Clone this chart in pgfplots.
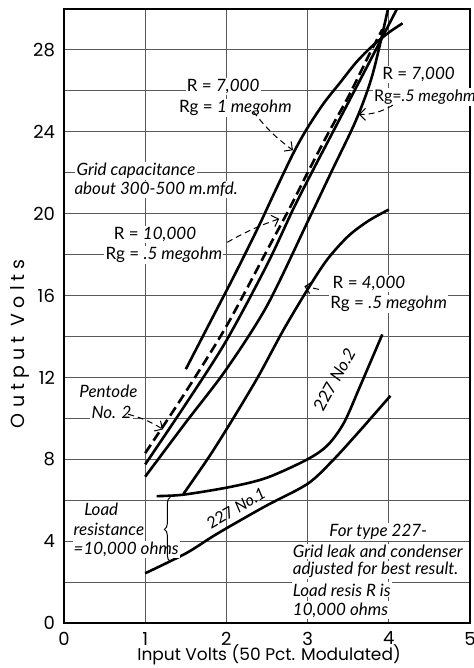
\documentclass[border=0pt]{standalone}
\usepackage{fontspec}
\setmainfont{Poppins}
\newfontfamily\ann{Lato}
\usepackage{pgfplots}
\pgfplotsset{compat=1.18}
\usetikzlibrary{decorations.pathreplacing,arrows.meta}

\pgfplotstableread{
x y
1.5 12.4
1.8 14.7
2.1 17.0
2.4 19.4
2.6 21.1
2.83 23.0
3.0 24.2
3.2 25.4
3.4 26.4
3.6 27.4
3.8 28.2
4.0 28.85
4.17 29.3
}\rgone
\pgfplotstableread{
x y
1.0 8.3
1.5 11.3
2.0 14.5
2.5 18.2
2.77 20.2
3.0 22.0
3.25 23.9
3.5 25.7
3.75 27.7
3.92 29.0
}\pentode
\pgfplotstableread{
x y
1.0 7.75
1.5 10.7
2.0 13.8
2.5 17.5
2.82 20.2
3.05 22.0
3.3 23.9
3.55 25.8
3.8 27.7
4.1 30.0
}\rtenk
\pgfplotstableread{
x y
1.0 7.15
1.5 9.8
2.0 12.4
2.5 15.5
3.0 19.6
3.3 22.1
3.6 24.6
3.8 26.8
3.99 30.0
}\rsevenk
\pgfplotstableread{
x y
1.47 6.3
1.8 8.2
2.1 10.1
2.4 12.1
2.7 14.3
3.0 16.3
3.24 17.75
3.5 18.9
3.75 19.65
4.0 20.2
}\rfourk
\pgfplotstableread{
x y
1.14 6.2
1.47 6.27
2.05 6.65
2.5 7.1
3.0 8.0
3.25 8.7
3.45 9.8
3.65 11.6
3.92 14.1
}\tubetwo
\pgfplotstableread{
x y
1.0 2.43
1.5 3.4
1.84 4.25
2.12 4.9
2.5 5.75
3.0 6.8
3.3 7.9
3.6 9.2
3.8 10.1
4.02 11.1
}\tubeone

\begin{document}
\begin{tikzpicture}[x=1pt,y=1pt]
\begin{axis}[
  name=ax, at={(0,0)}, anchor=south west,
  scale only axis, width=203pt, height=307pt,
  xmin=0, xmax=5, ymin=0, ymax=30,
  xtick={0,...,5}, ytick={0,4,...,28},
  minor ytick={2,6,...,26},
  grid=both,
  major grid style={black!65, line width=0.45pt},
  minor grid style={black!65, line width=0.45pt},
  major tick length=0pt, minor tick length=0pt,
  tick label style={font=\fontsize{9}{10}\selectfont},
  yticklabel style={xshift=-1pt},
  xticklabel style={yshift=-1pt},
  /pgf/number format/assume math mode=true,
  xlabel={Input Volts (50 Pct. Modulated)},
  ylabel={\addfontfeatures{LetterSpace=27}Output Volts},
  xlabel style={font=\fontsize{8.5}{10}\selectfont, at={(axis description cs:0.505,-0.052)}, anchor=center},
  ylabel style={font=\fontsize{9.5}{10}\selectfont, at={(axis description cs:-0.108,0.455)}, anchor=center},
  axis line style={line width=0.9pt},
  curve/.style={black, line width=1.3pt, smooth, tension=0.5, mark=none},
  clip mode=individual,
]
\addplot[curve] table {\rgone};
\addplot[curve, dash pattern=on 5pt off 2.5pt] table {\pentode};
\addplot[curve] table {\rtenk};
\addplot[curve] table {\rsevenk};
\addplot[curve] table {\rfourk};
\addplot[curve] table {\tubetwo};
\addplot[curve] table {\tubeone};

\begin{scope}[every node/.style={font=\ann\fontsize{8.5}{10}\selectfont, fill=white, inner sep=0.6pt}]
\node at (axis cs:1.96,26.2) {R = \textit{7,000}};
\node at (axis cs:2.11,25.15) {Rg = \textit{1 megohm}};
\node[anchor=west] at (axis cs:0.135,22.1) {\itshape Grid capacitance};
\node[anchor=west] at (axis cs:0.11,21.2) {\itshape about 300-500 m.mfd.};
\node at (axis cs:1.12,19.0) {R = \textit{10,000}};
\node at (axis cs:1.23,18.0) {Rg = \textit{.5 megohm}};
\node[anchor=west] at (axis cs:3.90,26.8) {R = \textit{7,000}};
\node[anchor=west, font=\ann\fontsize{8}{9}\selectfont] at (axis cs:3.80,25.7) {Rg=\textit{.5 megohm}};
\node[anchor=west] at (axis cs:3.29,16.6) {R = \textit{4,000}};
\node[anchor=west] at (axis cs:3.26,15.6) {Rg = \textit{.5 megohm}};
\node[anchor=west] at (axis cs:0.17,11.3) {\itshape Pentode};
\node[anchor=west] at (axis cs:0.32,10.3) {\itshape No. 2};
\node[anchor=west] at (axis cs:0.23,5.54) {\itshape Load};
\node[anchor=west] at (axis cs:0.10,4.56) {\itshape resistance};
\node[anchor=west] at (axis cs:0.10,3.58) {\itshape =10,000 ohms};
\node[anchor=west] at (axis cs:3.25,4.46) {\itshape For type 227-};
\node[anchor=west] at (axis cs:2.80,3.48) {\itshape Grid leak and condenser};
\node[anchor=west] at (axis cs:2.80,2.6) {\itshape adjusted for best result.};
\node[anchor=west] at (axis cs:2.80,1.62) {\itshape Load resis  R is};
\node[anchor=west] at (axis cs:2.80,0.64) {\itshape 10,000 ohms};
\end{scope}
\node[font=\ann\fontsize{8}{9}\selectfont, rotate=30, inner sep=0pt] at (axis cs:2.12,5.6) {227 \textit{No.1}};
\node[font=\ann\fontsize{8.5}{10}\selectfont, rotate=61, inner sep=0pt] at (axis cs:3.33,11.9) {227 \textit{No.2}};

\begin{scope}[line width=0.5pt, densely dashed, -{Straight Barb[length=3pt]}]
\draw (axis cs:2.33,25.0) to[bend right=8] (axis cs:2.82,23.1);
\draw (axis cs:2.01,18.6) to[bend left=5] (axis cs:2.65,19.75);
\draw (axis cs:4.05,25.3) to[bend left=15] (axis cs:3.63,24.85);
\draw (axis cs:3.14,16.3) -- (axis cs:2.96,16.45);
\draw (axis cs:0.79,10.2) to[bend left=8] (axis cs:1.22,9.46);
\end{scope}
\draw[line width=0.5pt, decorate, decoration={brace, amplitude=3pt}] (axis cs:1.31,3.0) -- (axis cs:1.31,6.15);
\end{axis}
\pgfresetboundingbox
\path (-32pt,-22.5pt) rectangle (204.5pt,311.5pt);
\end{tikzpicture}
\end{document}
